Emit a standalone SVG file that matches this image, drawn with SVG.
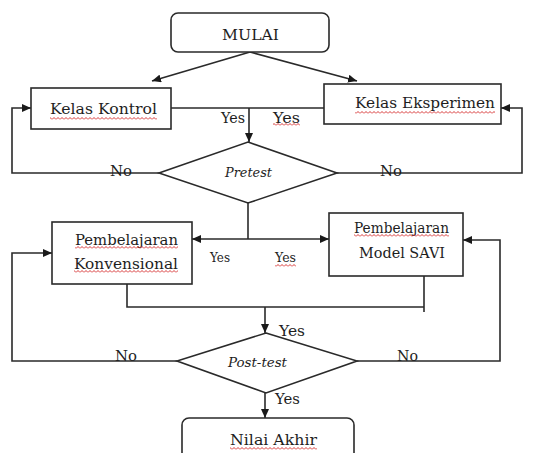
<svg xmlns="http://www.w3.org/2000/svg" width="537" height="453" viewBox="0 0 537 453">
<defs>
<marker id="ah" markerUnits="userSpaceOnUse" markerWidth="10" markerHeight="8" refX="9" refY="4" orient="auto">
<path d="M0,0 L9,4 L0,8 z" fill="#1a1a1a"/>
</marker>
<pattern id="sq" patternUnits="userSpaceOnUse" x="0" y="0" width="4" height="3">
<path d="M0,2.5 L2,0.5 L4,2.5" stroke="#d42020" stroke-width="0.9" fill="none"/>
</pattern>
</defs>
<style>
.box{fill:#fff;stroke:#2a2a2a;stroke-width:1.6}
.ln{fill:none;stroke:#2a2a2a;stroke-width:1.6}
.ar{fill:none;stroke:#2a2a2a;stroke-width:1.6;marker-end:url(#ah)}
.t{font-family:"DejaVu Serif","Liberation Serif",serif;font-size:15.5px;fill:#1e1e1e}
.s{font-family:"DejaVu Serif","Liberation Serif",serif;font-size:12.5px;fill:#1e1e1e}
.i{font-family:"DejaVu Serif","Liberation Serif",serif;font-size:13.5px;font-style:italic;fill:#1e1e1e}
.sq{fill:url(#sq)}
</style>
<rect width="537" height="453" fill="#fff"/>

<g id="connectors">
<path class="ar" d="M250,52 L152,81"/>
<path class="ar" d="M250,52 L357,81"/>
<path class="ln" d="M171,108 L324,108"/>
<path class="ar" d="M249,108 L249,142"/>
<path class="ar" d="M159,173 L12,173 L12,108 L31,108"/>
<path class="ar" d="M337,173 L522,173 L522,108 L501,108"/>
<path class="ln" d="M248,203 L248,239"/>
<path class="ar" d="M248,239 L192,239"/>
<path class="ar" d="M248,239 L329,239"/>
<path class="ln" d="M127,284 L127,307 L424,307"/>
<path class="ln" d="M424,276 L424,312"/>
<path class="ar" d="M265,307 L265,333"/>
<path class="ar" d="M177,361 L12,361 L12,253 L52,253"/>
<path class="ar" d="M357,361 L500,361 L500,240 L463,240"/>
<path class="ar" d="M265,393 L265,418"/>
</g>

<g id="mulai">
<rect class="box" x="171" y="13" width="158" height="39" rx="7"/>
<text class="t" x="250.5" y="40" text-anchor="middle" textLength="57" lengthAdjust="spacingAndGlyphs">MULAI</text>
</g>

<g id="kelas-kontrol">
<rect class="box" x="31" y="88" width="140" height="41"/>
<text class="t" x="50" y="114" textLength="107" lengthAdjust="spacingAndGlyphs">Kelas Kontrol</text>
<rect class="sq" x="50" y="117" width="107" height="3"/>
</g>

<g id="kelas-eksperimen">
<rect class="box" x="324" y="84" width="177" height="40"/>
<text class="t" x="355" y="108" textLength="140" lengthAdjust="spacingAndGlyphs">Kelas Eksperimen</text>
<rect class="sq" x="355" y="111" width="140" height="3"/>
</g>

<g id="pretest">
<polygon class="box" points="248,142 337,173 248,203 159,173"/>
<text class="i" x="248.5" y="177" text-anchor="middle" textLength="47" lengthAdjust="spacingAndGlyphs">Pretest</text>
</g>

<g id="pembelajaran-konvensional">
<rect class="box" x="52" y="222" width="140" height="62"/>
<text class="t" x="75" y="245" textLength="103" lengthAdjust="spacingAndGlyphs">Pembelajaran</text>
<rect class="sq" x="75" y="246" width="103" height="3"/>
<text class="t" x="74" y="269" textLength="104" lengthAdjust="spacingAndGlyphs">Konvensional</text>
<rect class="sq" x="74" y="270" width="104" height="3"/>
</g>

<g id="pembelajaran-savi">
<rect class="box" x="329" y="213" width="134" height="63"/>
<text class="t" x="354" y="233" textLength="95" lengthAdjust="spacingAndGlyphs">Pembelajaran</text>
<rect class="sq" x="354" y="234" width="95" height="3"/>
<text class="t" x="359" y="258" textLength="86" lengthAdjust="spacingAndGlyphs">Model SAVI</text>
</g>

<g id="post-test">
<polygon class="box" points="266,333 357,361 266,393 177,361"/>
<text class="i" x="228" y="367" textLength="59" lengthAdjust="spacingAndGlyphs">Post-test</text>
</g>

<g id="nilai-akhir">
<rect class="box" x="182" y="418" width="172" height="50" rx="7"/>
<text class="t" x="230" y="445" textLength="87" lengthAdjust="spacingAndGlyphs">Nilai Akhir</text>
<rect class="sq" x="230" y="447" width="87" height="3"/>
</g>

<g id="labels">
<text class="t" x="221" y="123" textLength="24" lengthAdjust="spacingAndGlyphs">Yes</text>
<text class="t" x="273" y="123" textLength="27" lengthAdjust="spacingAndGlyphs">Yes</text>
<rect class="sq" x="273" y="123" width="27" height="3"/>
<text class="t" x="110" y="176" textLength="22" lengthAdjust="spacingAndGlyphs">No</text>
<text class="t" x="380" y="176" textLength="22" lengthAdjust="spacingAndGlyphs">No</text>
<text class="s" x="210" y="262" textLength="20" lengthAdjust="spacingAndGlyphs">Yes</text>
<text class="s" x="275" y="262" textLength="21" lengthAdjust="spacingAndGlyphs">Yes</text>
<rect class="sq" x="275" y="264" width="21" height="3"/>
<text class="t" x="279" y="336" textLength="26" lengthAdjust="spacingAndGlyphs">Yes</text>
<text class="t" x="115" y="361" textLength="22" lengthAdjust="spacingAndGlyphs">No</text>
<text class="t" x="397" y="361" textLength="21" lengthAdjust="spacingAndGlyphs">No</text>
<text class="t" x="275" y="404" textLength="25" lengthAdjust="spacingAndGlyphs">Yes</text>
</g>
</svg>
